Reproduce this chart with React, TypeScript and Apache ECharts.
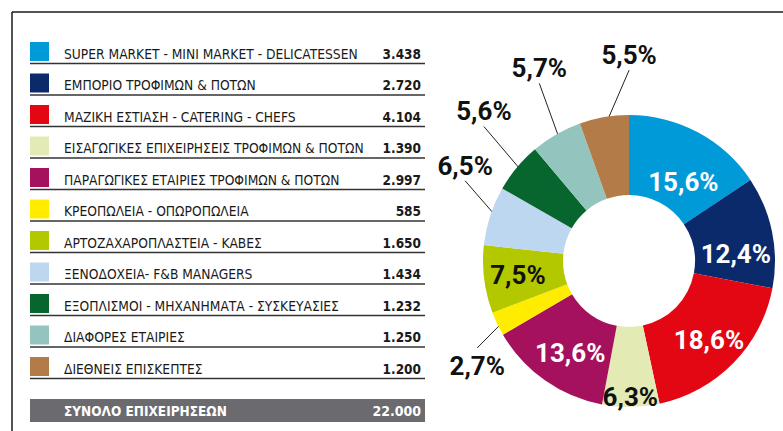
import React, { useEffect, useRef } from "react";
import * as echarts from "echarts";

const categories = [
  "SUPER MARKET - MINI MARKET - DELICATESSEN",
  "ΕΜΠΟΡΙΟ ΤΡΟΦΙΜΩΝ & ΠΟΤΩΝ",
  "ΜΑΖΙΚΗ ΕΣΤΙΑΣΗ - CATERING - CHEFS",
  "ΕΙΣΑΓΩΓΙΚΕΣ ΕΠΙΧΕΙΡΗΣΕΙΣ ΤΡΟΦΙΜΩΝ & ΠΟΤΩΝ",
  "ΠΑΡΑΓΩΓΙΚΕΣ ΕΤΑΙΡΙΕΣ ΤΡΟΦΙΜΩΝ & ΠΟΤΩΝ",
  "ΚΡΕΟΠΩΛΕΙΑ - ΟΠΩΡΟΠΩΛΕΙΑ",
  "ΑΡΤΟΖΑΧΑΡΟΠΛΑΣΤΕΙΑ - ΚΑΒΕΣ",
  "ΞΕΝΟΔΟΧΕΙΑ- F&B MANAGERS",
  "ΕΞΟΠΛΙΣΜΟΙ - ΜΗΧΑΝΗΜΑΤΑ - ΣΥΣΚΕΥΑΣΙΕΣ",
  "ΔΙΑΦΟΡΕΣ ΕΤΑΙΡΙΕΣ",
  "ΔΙΕΘΝΕΙΣ ΕΠΙΣΚΕΠΤΕΣ",
];
const values = [3438, 2720, 4104, 1390, 2997, 585, 1650, 1434, 1232, 1250, 1200];
const percentLabels = ["15,6%", "12,4%", "18,6%", "6,3%", "13,6%", "2,7%", "7,5%", "6,5%", "5,6%", "5,7%", "5,5%"];
const totalLabel = "ΣΥΝΟΛΟ ΕΠΙΧΕΙΡΗΣΕΩΝ";
const colors = [
  "#009ad9", "#0b2a6c", "#e30613", "#e3eab4", "#a6115e", "#ffec00",
  "#b4c800", "#bcd7ef", "#07652e", "#93c5be", "#b27b47",
];

// layout constants (not data)
const CX = 629;
const CY = 261;
const R0 = 66;
const R1 = 146;
const COND = "'DejaVu Sans Condensed', 'DejaVu Sans', sans-serif";
const LABEL_FONT = "Roboto, 'DejaVu Sans Condensed', sans-serif";
const darkInside = [3, 6];
const outsideLeaders: Record<number, [number, number]> = {
  5: [-20, 24],
  7: [-25, -35],
  8: [-33, -41],
  9: [-17, -51],
  10: [25, -47],
};
const insideNudge: Record<number, [number, number]> = {
  0: [3, 17],
  1: [0, 15],
  2: [2, 3],
  3: [0, 27],
  4: [4, 3],
  6: [-3, 0],
};

const fmt = (n: number) => String(n).replace(/\B(?=(\d{3})+(?!\d))/g, ".");

export default function App() {
  const ref = useRef<HTMLDivElement>(null);
  useEffect(() => {
    document.body.style.margin = "0";
    const chart = echarts.init(ref.current!, null, { renderer: "svg" });
    const total = values.reduce((a, b) => a + b, 0);

    const ROW0 = 42;
    const PITCH = 31.5;
    const graphics: any[] = [
      { type: "line", shape: { x1: 12, y1: 12, x2: 783, y2: 12 }, style: { stroke: "#1a1a1a", lineWidth: 1.5 } },
      { type: "line", shape: { x1: 12, y1: 12, x2: 12, y2: 431 }, style: { stroke: "#1a1a1a", lineWidth: 1.5 } },
    ];
    categories.forEach((name, i) => {
      const top = ROW0 + i * PITCH;
      graphics.push(
        { type: "rect", shape: { x: 30, y: top, width: 19, height: 19 }, style: { fill: colors[i] } },
        {
          type: "text", x: 64, y: top + 11.5,
          style: { text: name, fontFamily: COND, fontSize: 13.7, fill: "#1a1a1a", align: "left", verticalAlign: "middle" },
        },
        {
          type: "text", x: 421, y: top + 11.5,
          style: { text: fmt(values[i]), fontFamily: COND, fontWeight: "bold", fontSize: 13.5, fill: "#1a1a1a", align: "right", verticalAlign: "middle" },
        },
        { type: "line", shape: { x1: 30, y1: top + 21.5, x2: 425, y2: top + 21.5 }, style: { stroke: "#333", lineWidth: 1.5 } }
      );
    });
    graphics.push(
      { type: "rect", shape: { x: 30, y: 399, width: 395, height: 23 }, style: { fill: "#6b6a6f" } },
      {
        type: "text", x: 64, y: 411,
        style: { text: totalLabel, fontFamily: COND, fontWeight: "bold", fontSize: 13.5, fill: "#fff", align: "left", verticalAlign: "middle" },
      },
      {
        type: "text", x: 421, y: 411,
        style: { text: fmt(total), fontFamily: COND, fontWeight: "bold", fontSize: 14, fill: "#fff", align: "right", verticalAlign: "middle" },
      }
    );

    const data = values.map((v, i) => {
      const outside = outsideLeaders[i] != null;
      return {
        value: v,
        name: categories[i],
        itemStyle: { color: colors[i] },
        label: outside
          ? { position: "outside", color: "#111" }
          : { position: "inside", color: darkInside.includes(i) ? "#111" : "#fff" },
        labelLine: { show: outside, length: 10, length2: 0, lineStyle: { color: "#222", width: 1 } },
      };
    });

    chart.setOption({
      animation: false,
      graphic: graphics,
      series: [
        {
          type: "pie",
          center: [CX, CY],
          radius: [R0, R1],
          startAngle: 90,
          clockwise: true,
          avoidLabelOverlap: false,
          silent: true,
          emphasis: { disabled: true },
          itemStyle: { borderWidth: 0 },
          label: {
            fontFamily: LABEL_FONT,
            fontWeight: "bold",
            fontSize: 26,
            formatter: (p: any) => percentLabels[p.dataIndex],
          },
          labelLayout: (p: any) => {
            const i = p.dataIndex;
            const lead = outsideLeaders[i];
            if (lead && p.labelLinePoints) {
              const a = p.labelLinePoints[0];
              const dx = a[0] - CX;
              const dy = a[1] - CY;
              const d = Math.sqrt(dx * dx + dy * dy) || 1;
              const s = [a[0] - (dx / d) * 8, a[1] - (dy / d) * 8];
              const e = [a[0] + lead[0], a[1] + lead[1]];
              const below = lead[1] > 0;
              return {
                x: e[0],
                y: e[1] + (below ? 18 : -15),
                align: "center",
                verticalAlign: "middle",
                labelLinePoints: [s, e, e],
              };
            }
            const n = insideNudge[i];
            if (n) return { dx: n[0], dy: n[1] };
            return {};
          },
          data,
        },
      ],
    });
    return () => chart.dispose();
  }, []);
  return <div ref={ref} style={{ width: 783, height: 431 }} />;
}
